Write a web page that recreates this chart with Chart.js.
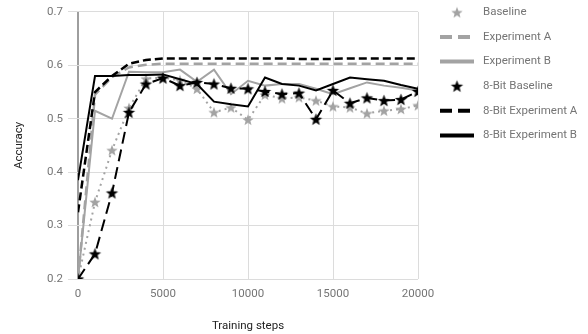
<!DOCTYPE html>
<html><head><meta charset="utf-8">
<script src="https://cdn.jsdelivr.net/npm/chart.js@4"></script>
<style>html,body{margin:0;padding:0;background:#fff}#wrap{width:588px;height:334px}</style>
</head><body><div id="wrap"><canvas id="c" width="588" height="334"></canvas></div>
<script>
const steps = [0,1000,2000,3000,4000,5000,6000,7000,8000,9000,10000,11000,12000,13000,14000,15000,16000,17000,18000,19000,20000];
const baseline = [0.2,0.344,0.441,0.52,0.575,0.577,0.572,0.556,0.512,0.521,0.498,0.545,0.538,0.54,0.534,0.523,0.521,0.51,0.515,0.518,0.525];
const experimentA = [0.2,0.545,0.578,0.596,0.601,0.603,0.603,0.603,0.603,0.603,0.603,0.603,0.603,0.603,0.603,0.603,0.603,0.603,0.603,0.603,0.603];
const experimentB = [0.2,0.515,0.5,0.588,0.587,0.587,0.592,0.569,0.592,0.546,0.571,0.562,0.565,0.565,0.556,0.546,0.557,0.568,0.562,0.558,0.553];
const bit8Baseline = [0.2,0.247,0.361,0.512,0.565,0.576,0.562,0.568,0.565,0.557,0.556,0.551,0.546,0.548,0.499,0.553,0.529,0.539,0.534,0.536,0.551];
const bit8ExperimentA = [0.325,0.55,0.58,0.603,0.61,0.613,0.613,0.613,0.613,0.613,0.613,0.613,0.613,0.612,0.612,0.612,0.613,0.613,0.613,0.613,0.613];
const bit8ExperimentB = [0.385,0.58,0.58,0.582,0.582,0.583,0.574,0.565,0.532,0.527,0.523,0.577,0.565,0.562,0.553,0.565,0.577,0.574,0.571,0.563,0.556];
const yTicks = [0.2,0.3,0.4,0.5,0.6,0.7];
const xTicks = [0,5000,10000,15000,20000];

const GREY = '#a3a3a3', BLACK = '#000000', TXT = '#757575';
const FONT = 'Roboto, "Noto Sans", Arial, sans-serif';

function starImg(color, r){
  const s = Math.ceil(r*2+2);
  const cv = document.createElement('canvas'); cv.width = s; cv.height = s;
  const g = cv.getContext('2d'); g.fillStyle = color; g.beginPath();
  const cx = s/2, cy = s/2 + r*0.08, ri = r*0.42;
  for (let i=0;i<10;i++){ const rr = i%2?ri:r; const a = -Math.PI/2 + i*Math.PI/5;
    const x = cx + rr*Math.cos(a), y = cy + rr*Math.sin(a); i?g.lineTo(x,y):g.moveTo(x,y); }
  g.closePath(); g.fill(); return cv;
}
const greyStar = starImg(GREY, 6), blackStar = starImg(BLACK, 6.5);

const pts = ys => steps.map((x,i)=>({x, y: ys[i]}));
const series = [
  {label:'Baseline', data:baseline, color:GREY, dash:[2,4], width:2, star:greyStar, order:6},
  {label:'Experiment A', data:experimentA, color:GREY, dash:[9,5], width:2.5, star:null, order:5},
  {label:'Experiment B', data:experimentB, color:GREY, dash:[], width:2, star:null, order:4},
  {label:'8-Bit Baseline', data:bit8Baseline, color:BLACK, dash:[12,6], width:2, star:blackStar, order:1},
  {label:'8-Bit Experiment A', data:bit8ExperimentA, color:BLACK, dash:[8,4], width:2.5, star:null, order:3},
  {label:'8-Bit Experiment B', data:bit8ExperimentB, color:BLACK, dash:[], width:2, star:null, order:2},
];

const legendPlugin = {
  id:'customLegend',
  afterDraw(chart){
    const ctx = chart.ctx, ca = chart.chartArea;
    const x0 = ca.right + 22, x1 = x0 + 34, tx = x0 + 43;
    ctx.save();
    ctx.font = '11.5px ' + FONT; ctx.textBaseline = 'middle'; ctx.fillStyle = TXT;
    series.forEach((s,i)=>{
      const y = ca.top + 0.5 + i*24.6;
      if (s.star){ ctx.drawImage(s.star, x0+17 - s.star.width/2, y - s.star.height/2); }
      else { ctx.strokeStyle = s.color; ctx.lineWidth = 4; ctx.setLineDash(s.dash.length? [12,6]:[]);
        ctx.beginPath(); ctx.moveTo(x0,y); ctx.lineTo(x1,y); ctx.stroke(); ctx.setLineDash([]); }
      ctx.fillStyle = TXT; ctx.fillText(s.label, tx, y);
    });
    ctx.restore();
  }
};

new Chart(document.getElementById('c'), {
  type:'line',
  data:{ datasets: series.map(s=>({
    label:s.label, data:pts(s.data), borderColor:s.color, backgroundColor:s.color,
    borderWidth:s.width, borderDash:s.dash, tension:0, fill:false, order:s.order,
    pointStyle: s.star || 'circle', pointRadius: s.star?6:0, pointHoverRadius:0,
  }))},
  options:{
    responsive:false, animation:false, devicePixelRatio:1,
    layout:{padding:{top:11, right:170, left:12, bottom:0}},
    plugins:{legend:{display:false}, tooltip:{enabled:false}},
    scales:{
      x:{type:'linear', min:0, max:20000,
        afterBuildTicks: s => { s.ticks = xTicks.map(v=>({value:v})); },
        afterFit: s => { s.height = 55; },
        grid:{color: c => c.tick && c.tick.value===0 ? '#9e9e9e' : '#dcdcdc', lineWidth: c => c.tick && c.tick.value===0 ? 2 : 1, drawTicks:false},
        border:{display:false},
        ticks:{color:TXT, font:{family:FONT, size:11.5}, padding:8, maxRotation:0, callback:v=>String(v)},
        title:{display:true, text:'Training steps', color:'#222', font:{family:FONT, size:11.5}, padding:{top:14,bottom:1}}
      },
      y:{min:0.2, max:0.7,
        afterBuildTicks: s => { s.ticks = yTicks.map(v=>({value:v})); },
        afterFit: s => { s.width = 66; },
        grid:{color:'#dcdcdc', drawTicks:true, tickLength:10},
        border:{display:false},
        ticks:{color:TXT, font:{family:FONT, size:11.5}, padding:5, callback:v=>v.toFixed(1)},
        title:{display:true, text:'Accuracy', color:'#222', font:{family:FONT, size:11.5}, padding:{top:0,bottom:10}}
      }
    }
  },
  plugins:[legendPlugin]
});
</script></body></html>
